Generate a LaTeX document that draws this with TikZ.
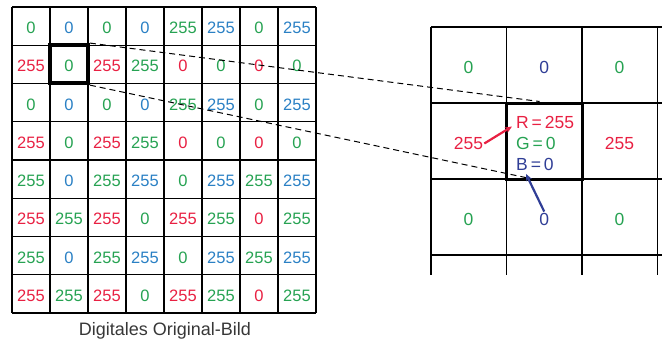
\documentclass[tikz,border=0pt]{standalone}
\usepackage{fontspec}
\setmainfont{Liberation Sans}
\usetikzlibrary{arrows.meta, positioning, calc}

\definecolor{valgreen}{RGB}{38,162,82}
\definecolor{valblue}{RGB}{42,128,196}
\definecolor{valred}{RGB}{232,32,66}
\definecolor{valnavy}{RGB}{48,62,150}
\definecolor{captiongray}{RGB}{55,55,55}

\begin{document}
\begin{tikzpicture}[x=1pt, y=-1pt,
    val/.style={font=\fontsize{16.5}{19}\selectfont, inner sep=1pt},
    bigval/.style={font=\fontsize{17.5}{20}\selectfont, inner sep=1pt},
    gridline/.style={draw=black, line width=1.3pt},
    sel/.style={draw=black, inner sep=0pt},
    proj/.style={dash pattern=on 6pt off 4pt, line width=1pt},
    pick/.style={line width=2.2pt, -{Stealth[length=7pt,width=6pt]}}
]
\useasboundingbox (0,0) rectangle (662,343);

% Original image: 8x8 grid
\foreach \i in {0,...,8} {
  \draw[gridline] (12+38*\i,7) -- (12+38*\i,313);
  \draw[gridline] (12,7+38.25*\i) -- (316,7+38.25*\i);
}
\foreach \row [count=\r from 0] in {
    {0,0,0,0,255,255,0,255},
    {255,0,255,255,0,0,0,0},
    {0,0,0,0,255,255,0,255},
    {255,0,255,255,0,0,0,0},
    {255,0,255,255,0,255,255,255},
    {255,255,255,0,255,255,0,255},
    {255,0,255,255,0,255,255,255},
    {255,255,255,0,255,255,0,255}} {
  \foreach \v [count=\c from 0] in \row {
    \pgfmathtruncatemacro\k{2*mod(\r,2)+mod(\c,2)}
    \ifcase\k\def\clr{valgreen}\or\def\clr{valblue}\or\def\clr{valred}\or\def\clr{valgreen}\fi
    \node[val, text=\clr] (l-\r-\c) at (31+38*\c, 28+38.25*\r) {\v};
  }
}
\node[sel, line width=3.8pt, minimum width=38pt, minimum height=38.25pt] (lsel) at (69,64.1) {};
\node[font=\fontsize{18}{21}\selectfont, text=captiongray] (caption) at (165,331) {Digitales Original-Bild};

% Zoomed pixel neighbourhood
\foreach \x in {431,506.5,582,657.5}
  \draw[gridline] (\x,27) -- (\x,275);
\foreach \y in {27,103,179,255}
  \draw[gridline] (431,\y) -- (662,\y);
\node[sel, line width=3pt, minimum width=75.5pt, minimum height=76pt] (rsel) at (544.25,141) {};

\node[bigval, text=valgreen] (r-0-0) at (468.5,67.5) {0};
\node[bigval, text=valnavy]  (r-0-1) at (544.25,67.5) {0};
\node[bigval, text=valgreen] (r-0-2) at (619.5,67.5) {0};
\node[bigval, text=valred]   (r-1-0) at (468.5,143.5) {255};
\node[bigval, text=valred]   (r-1-2) at (619.5,143.5) {255};
\node[bigval, text=valgreen] (r-2-0) at (468.5,219) {0};
\node[bigval, text=valnavy]  (r-2-1) at (544.25,219) {0};
\node[bigval, text=valgreen] (r-2-2) at (619.5,219) {0};

\node[bigval, text=valred, anchor=west]   (chr) at (515,122.5) {R\,=\,255};
\node[bigval, text=valgreen, anchor=west] (chg) at (515,143.5) {G\,=\,0};
\node[bigval, text=valnavy, anchor=west]  (chb) at (515,164.5) {B\,=\,0};

% Projection of the selected pixel
\draw[proj] (lsel.north east) -- ($(rsel.north west)!.44!(rsel.north east)$);
\draw[proj] (lsel.south east) -- ($(rsel.south west)!.44!(rsel.south east)$);

% Neighbour values pointing at the channels
\draw[pick, valred] (r-1-0.east) -- ($(chr.west)+(-3,4)$);
\draw[pick, valnavy] (r-2-1.north) -- ($(chb.south west)+(11,2)$);

\end{tikzpicture}
\end{document}
